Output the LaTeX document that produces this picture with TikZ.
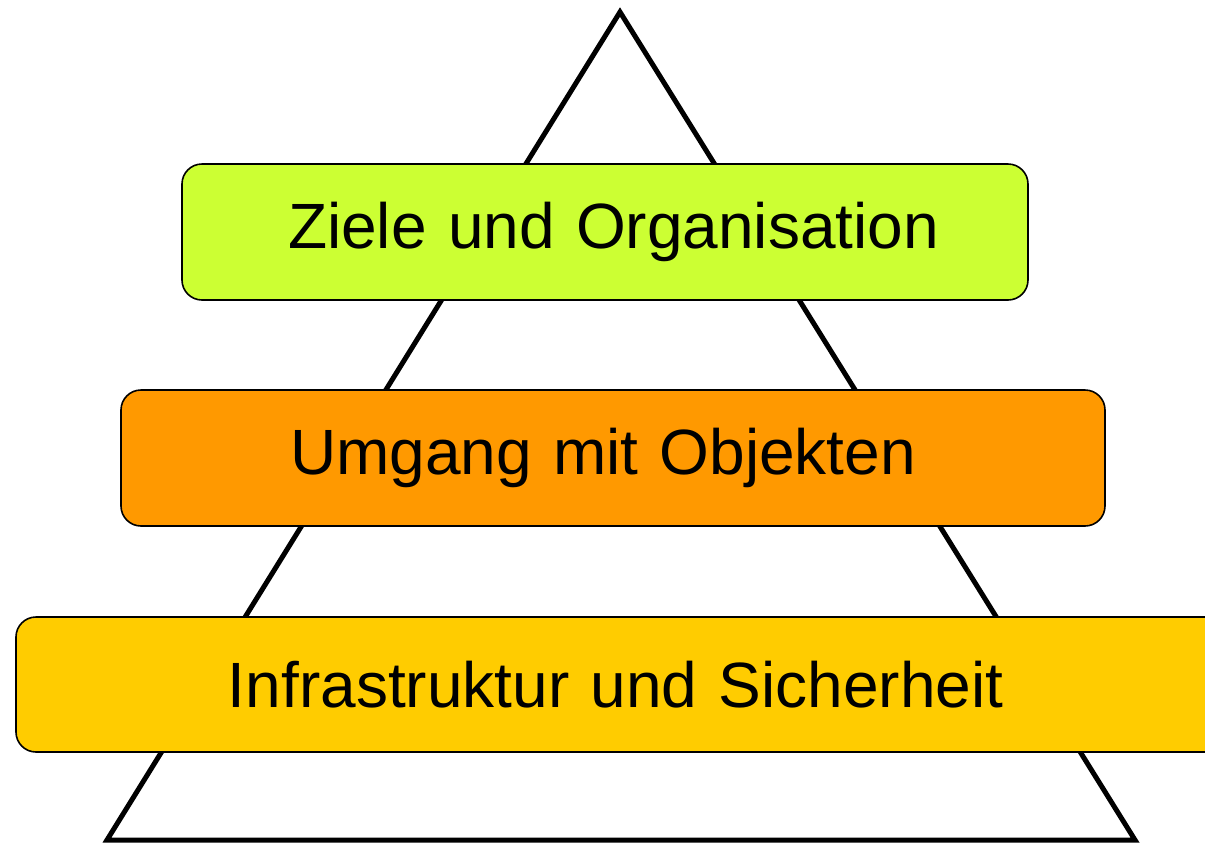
\documentclass[tikz,border=0pt]{standalone}
\usepackage{fontspec}
\setmainfont{Liberation Sans}
\begin{document}
\begin{tikzpicture}[x=1pt,y=-1pt,
  layer/.style={draw=black, line width=1.6pt, rounded corners=20pt, inner sep=0pt,
    font=\fontsize{64}{74}\selectfont, text=black, align=left}]
\useasboundingbox (0,0) rectangle (1205,844);
\clip (0,0) rectangle (1205,844);
\fill[white] (0,0) rectangle (1205,844);
\coordinate (apex) at (620,12);
\coordinate (bl) at (107,840);
\coordinate (br) at (1135,840);
\draw[line width=5pt, line join=miter] (bl) -- (apex) -- (br) -- cycle;
\node[layer, fill={rgb,255:red,204;green,255;blue,51}, minimum width=846pt, minimum height=136pt, text width=846pt] (l1) at (605,232) {\hspace*{106pt}Ziele und Organisation};
\node[layer, fill={rgb,255:red,255;green,153;blue,0}, minimum width=984pt, minimum height=136pt, text width=984pt] (l2) at (613,458) {\hspace*{169pt}Umgang mit Objekten};
\node[layer, fill={rgb,255:red,255;green,204;blue,0}, minimum width=1210pt, minimum height=135pt, text width=1210pt] (l3) at (621,684.5) {\hspace*{212pt}Infrastruktur und Sicherheit};
\end{tikzpicture}
\end{document}
